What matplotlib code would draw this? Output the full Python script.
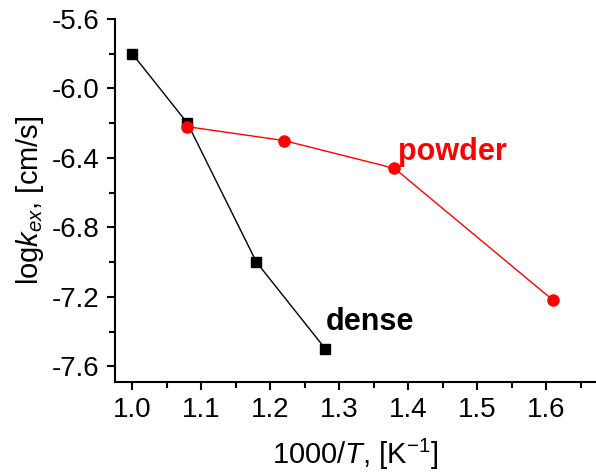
import matplotlib.pyplot as plt
from matplotlib.ticker import MultipleLocator

plt.rcParams['font.family'] = ['Liberation Sans', 'DejaVu Sans']
plt.rcParams['mathtext.fontset'] = 'custom'
plt.rcParams['mathtext.rm'] = 'Liberation Sans'
plt.rcParams['mathtext.it'] = 'Liberation Sans:italic'

# dense sample
dense_x = [1.0, 1.08, 1.18, 1.28]
dense_y = [-5.8, -6.2, -7.0, -7.5]

# powder sample
powder_x = [1.08, 1.22, 1.38, 1.61]
powder_y = [-6.22, -6.30, -6.46, -7.22]

yticks = [-7.6, -7.2, -6.8, -6.4, -6.0, -5.6]

fig = plt.figure(figsize=(5.96, 4.75), dpi=100)
ax = fig.add_axes([115/596, 93/475, 481/596, 363/475])

ax.plot(dense_x, dense_y, color='black', lw=1, marker='s', ms=7)
ax.plot(powder_x, powder_y, color='red', lw=1, marker='o', ms=8)

ax.text(1.385, -6.41, 'powder', color='red', fontsize=22, fontweight='bold')
ax.text(1.281, -7.39, 'dense', color='black', fontsize=22, fontweight='bold')

ax.set_xlim(0.975, 1.672)
ax.set_ylim(-7.69, -5.6)
ax.xaxis.set_major_locator(MultipleLocator(0.1))
ax.xaxis.set_minor_locator(MultipleLocator(0.05))
ax.yaxis.set_minor_locator(MultipleLocator(0.2))
ax.set_yticks(yticks)
ax.set_yticklabels([f'{v:.1f}' for v in yticks])

for s in ['top', 'right']:
    ax.spines[s].set_visible(False)
for s in ['left', 'bottom']:
    ax.spines[s].set_linewidth(1.5)
ax.tick_params(which='major', direction='out', length=6, width=1.5, labelsize=20, pad=5)
ax.tick_params(which='minor', direction='out', length=4, width=1.5)

ax.set_xlabel('1000/$T$, [K$^{-1}$]', fontsize=21, labelpad=10)
ax.set_ylabel('log$k_{ex}$, [cm/s]', fontsize=21, labelpad=4)

fig.savefig('out.png', dpi=100)
